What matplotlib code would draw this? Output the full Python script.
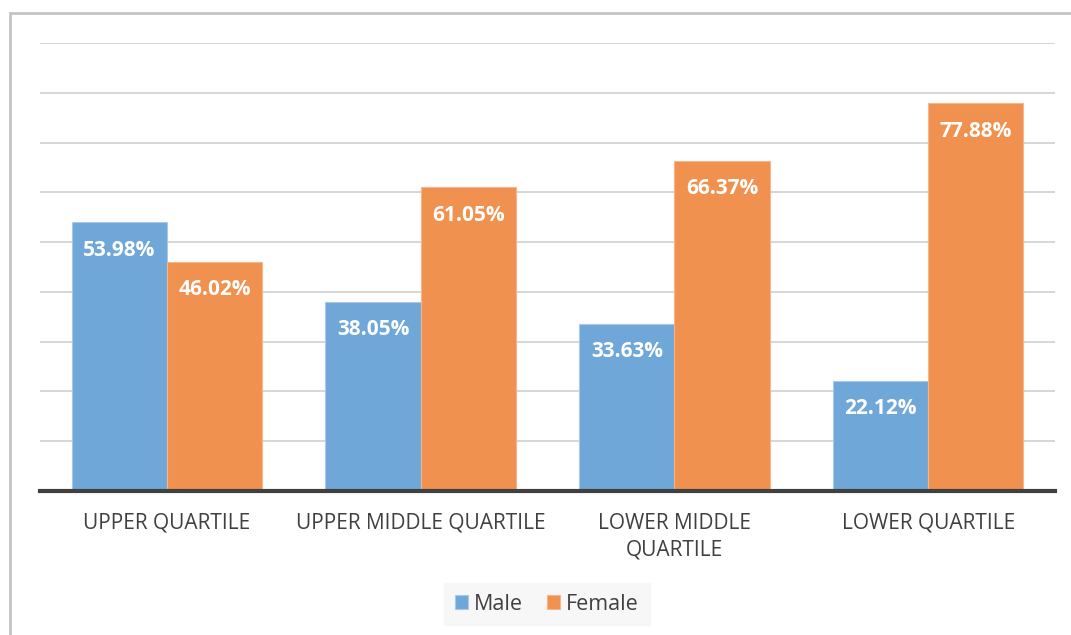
import matplotlib
matplotlib.use("Agg")
import matplotlib.pyplot as plt
import numpy as np
from matplotlib.patches import Rectangle

categories = ["UPPER QUARTILE", "UPPER MIDDLE QUARTILE", "LOWER MIDDLE\nQUARTILE", "LOWER QUARTILE"]
male = [53.98, 38.05, 33.63, 22.12]
female = [46.02, 61.05, 66.37, 77.88]
series_names = ["Male", "Female"]

plt.rcParams['font.family'] = ['Open Sans', 'DejaVu Sans']

fig = plt.figure(figsize=(10.71, 6.35), dpi=100)
fig.patch.set_facecolor('white')
# outer frame
fig.patches.append(Rectangle((10/1071, -0.05), 1.1, (635-13)/635 + 0.05, transform=fig.transFigure,
                             fill=False, edgecolor='#c4c4c4', linewidth=2, zorder=0))

ax = fig.add_axes([40/1071, 1-491/635, (1055-40)/1071, (491-43)/635])
x = np.arange(len(categories))
w = 0.375
blue = '#70a7d9'
orange = '#f0914f'
b1 = ax.bar(x - w/2, male, w, color=blue, edgecolor='#a8c9ea', linewidth=0.8, label=series_names[0], zorder=3)
b2 = ax.bar(x + w/2, female, w, color=orange, edgecolor='#f5b689', linewidth=0.8, label=series_names[1], zorder=3)

for bars, vals in ((b1, male), (b2, female)):
    for r, v in zip(bars, vals):
        ax.annotate(f"{v:.2f}%", (r.get_x() + r.get_width()/2, v), xytext=(0, -28),
                    textcoords='offset pixels', ha='center', va='center',
                    color='white', fontsize=15, fontweight='bold', zorder=4)

ax.set_xlim(-0.5, len(categories) - 0.5)
ax.set_ylim(0, 90)
ax.set_yticks(np.arange(0, 91, 10))
ax.yaxis.grid(True, color='#d0d0d0', linewidth=1.2, zorder=0)
ax.tick_params(axis='y', left=False, labelleft=False)
ax.set_xticks(x)
ax.set_xticklabels(categories, fontsize=15, color='#404040', linespacing=1.35)
ax.tick_params(axis='x', bottom=False, pad=12)
for s in ['top', 'right', 'left']:
    ax.spines[s].set_visible(False)
ax.spines['bottom'].set_color('#404040')
ax.spines['bottom'].set_linewidth(3)
ax.spines['bottom'].set_zorder(5)

leg = ax.legend(loc='center', bbox_to_anchor=(547/1071, 1-604/635), bbox_transform=fig.transFigure,
                ncol=2, frameon=True, fontsize=15.5, handlelength=0.6, handleheight=0.6,
                handletextpad=0.3, columnspacing=1.1, borderpad=0.5, fancybox=False)
leg.get_frame().set_facecolor('#f6f6f6')
leg.get_frame().set_edgecolor('#f6f6f6')
for t in leg.get_texts():
    t.set_color('#404040')

fig.savefig('out.png', dpi=100)
